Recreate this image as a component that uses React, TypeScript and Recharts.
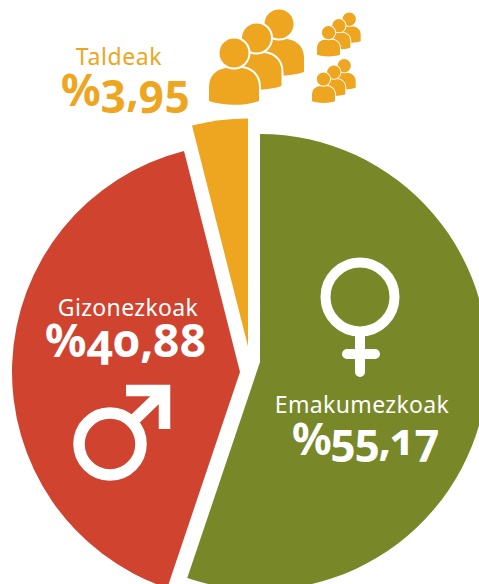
import { Pie, PieChart, Sector, Cell } from "recharts";

const categories = ["Emakumezkoak", "Gizonezkoak", "Taldeak"];
const values = [55.17, 40.88, 3.95];
const valueLabels = ["%55,17", "%40,88", "%3,95"];
const colors = ["#788829", "#D0432F", "#EEA520"];

const data = categories.map((name, i) => ({ name, value: values[i] }));

// each slice is pulled out of the pie by hand, the gaps are not even
const shifts = [
  [10, 2],
  [-10, 12],
  [-2, -13.5],
];

const FONT = "'Noto Sans', sans-serif";

const SliceShape = (props: any) => {
  const [dx, dy] = shifts[props.index] || [0, 0];
  return <Sector {...props} cx={props.cx + dx} cy={props.cy + dy} />;
};

// origin is the top middle of the body; white stroke sits behind the fill as a gap
const Person = ({ x, y }: { x: number; y: number }) => (
  <g
    transform={`translate(${x} ${y})`}
    fill="#EEA520"
    stroke="#fff"
    strokeWidth={4}
    style={{ paintOrder: "stroke" }}
  >
    <path d="M-25 33 L-25 19 C-25 6 -15 0 -6 0 L6 0 C15 0 25 6 25 19 L25 33 C10 38 -10 38 -25 33 Z" />
    <circle cx={0} cy={-15} r={14.5} />
  </g>
);

const Crowd = ({ x, y, s }: { x: number; y: number; s: number }) => (
  <g transform={`translate(${x} ${y}) scale(${s})`}>
    <Person x={45} y={-29} />
    <Person x={22.5} y={-15} />
    <Person x={0} y={0} />
  </g>
);

const App = () => (
  <div style={{ position: "absolute", left: 0, top: 0, width: 479, height: 584 }}>
    <PieChart width={479} height={584} margin={{ top: 0, right: 0, bottom: 0, left: 0 }}>
      <Pie
        data={data}
        dataKey="value"
        nameKey="name"
        cx={250}
        cy={360}
        innerRadius={0}
        outerRadius={228}
        startAngle={90}
        endAngle={-270}
        stroke="none"
        shape={SliceShape}
        isAnimationActive={false}
      >
        {data.map((d, i) => (
          <Cell key={d.name} fill={colors[i]} />
        ))}
      </Pie>
    </PieChart>

    {/* labels and icons have to sit over the slices */}
    <svg width={479} height={584} style={{ position: "absolute", left: 0, top: 0 }}>
      <g fontFamily={FONT} textAnchor="middle" style={{ fontFeatureSettings: "'onum'" }}>
        <text x={119} y={65} fontSize={23} letterSpacing={0.6} fill={colors[2]}>{categories[2]}</text>
        <text x={125.5} y={106} fontSize={44} fontWeight={700} fill={colors[2]}>{valueLabels[2]}</text>
        <text x={128} y={316} fontSize={23} letterSpacing={0.35} fill="#fff">{categories[1]}</text>
        <text x={126} y={357} fontSize={46} fontWeight={700} fill="#fff">{valueLabels[1]}</text>
        <text x={362} y={413} fontSize={23} letterSpacing={0.35} fill="#fff">{categories[0]}</text>
        <text x={365} y={455} fontSize={44} fontWeight={700} letterSpacing={-1.5} fill="#fff">{valueLabels[0]}</text>
      </g>

      {/* venus */}
      <g fill="none" stroke="#fff" strokeWidth={10} strokeLinecap="round">
        <circle cx={360} cy={297} r={34.5} />
        <path d="M360 335 L360 372 M347 354 L375 354" />
      </g>

      {/* mars */}
      <g fill="none" stroke="#fff" strokeWidth={11.5}>
        <circle cx={110} cy={444} r={31} />
        <path d="M133 421 L163 392" />
        <path d="M126 390.5 L164.5 390.5 L164.5 429" />
      </g>

      <Crowd x={234} y={68} s={1} />
      <Crowd x={328.5} y={39.5} s={0.46} />
      <Crowd x={323.5} y={86} s={0.46} />
    </svg>
  </div>
);

export default App;
